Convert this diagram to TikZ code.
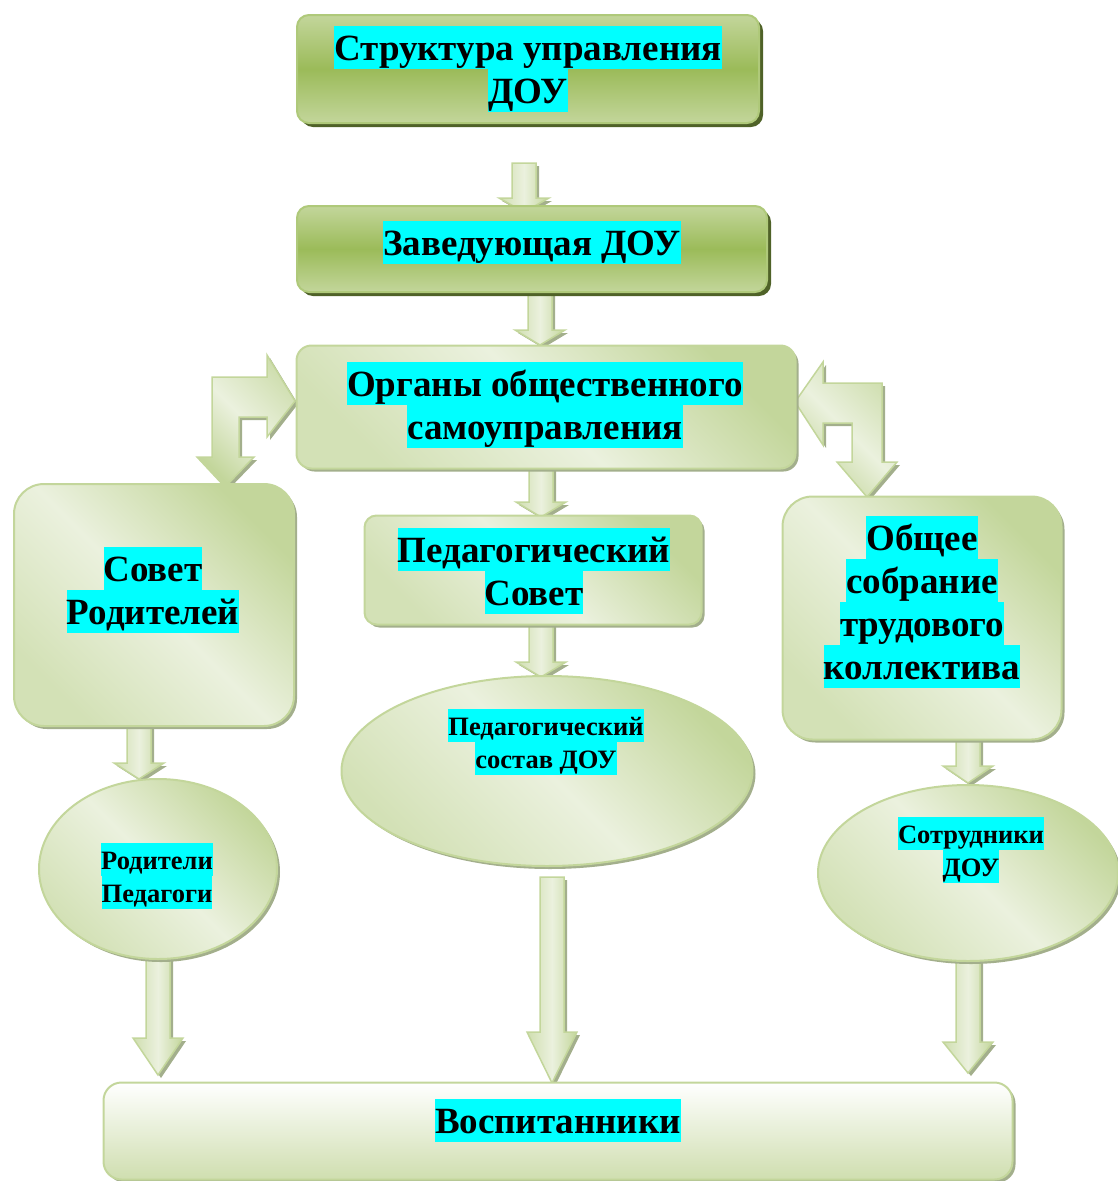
\documentclass[tikz,border=0pt]{standalone}
\usepackage{fontspec}
\setmainfont{Liberation Serif}
\usetikzlibrary{shapes.geometric}
\usetikzlibrary{shadows}
\usetikzlibrary{calc}
\usetikzlibrary{backgrounds}

\definecolor{olvdark}{HTML}{9BBB59}
\definecolor{olvlight}{HTML}{C3D69B}
\definecolor{olvpale}{HTML}{EBF1DE}
\definecolor{olvshadow}{HTML}{4F6228}
\definecolor{grnshadow}{HTML}{A3AF8C}
\definecolor{hlcyan}{HTML}{00FFFF}

\newcommand{\hl}[1]{{\setlength{\fboxsep}{0pt}\colorbox{hlcyan}{\rule[-0.19\baselineskip]{0pt}{\baselineskip}#1}}}
% block arrow pointing down: from, to, head length
\newcommand{\vblock}[3]{%
\path[blockarrow] ($(#1)+(-12,0)$) -- ($(#1)+(12,0)$) -- ($(#1 |- #2)+(12,-#3)$)
  -- ($(#1 |- #2)+(25,-#3)$) -- (#1 |- #2) -- ($(#1 |- #2)+(-25,-#3)$)
  -- ($(#1 |- #2)+(-12,-#3)$) -- cycle;}

\begin{document}
\begin{tikzpicture}[x=1pt, y=-1pt,
  bigtxt/.style={font=\fontsize{37}{43}\selectfont\bfseries, align=center, inner sep=0pt},
  smalltxt/.style={font=\fontsize{26.5}{33}\selectfont\bfseries, align=center, inner sep=0pt},
  darkbox/.style={rectangle, rounded corners=12pt, draw=olvdark!80!white, line width=2pt,
    top color=olvlight, bottom color=olvlight, middle color=olvdark,
    drop shadow={shadow xshift=4pt, shadow yshift=-4pt, fill=olvshadow, opacity=1}},
  lightbox/.style={rectangle, draw=olvlight, line width=2pt,
    top color=olvlight, bottom color=olvlight!60!olvpale, middle color=olvpale, shading angle=-45,
    drop shadow={shadow xshift=3pt, shadow yshift=-3pt, fill=grnshadow, opacity=1}},
  lightoval/.style={lightbox, ellipse},
  blockarrow/.style={draw=olvlight, line width=1.5pt,
    left color=olvlight!70!olvpale, right color=olvlight, middle color=olvpale,
    drop shadow={shadow xshift=3pt, shadow yshift=-3pt, fill=grnshadow, opacity=1}},
  bentarrow/.style={blockarrow, shading angle=-45}]
\useasboundingbox (0,0) rectangle (1117,1181);

% boxes
\node[darkbox, minimum width=462pt, minimum height=108pt, bigtxt] (title) at (528,69)
  {\hl{Структура управления}\\\hl{ДОУ}};
\node[darkbox, minimum width=470pt, minimum height=86pt] (zav) at (532,249) {};
\node[bigtxt] (zavt) at (532,242) {\hl{Заведующая ДОУ}};
\node[lightbox, rounded corners=15pt, minimum width=499pt, minimum height=123pt] (organy) at (546,407) {};
\node[bigtxt] (organyt) at (545,405) {\hl{Органы общественного}\\\hl{самоуправления}};
\node[lightbox, rounded corners=12pt, minimum width=337pt, minimum height=109pt] (pedsovet) at (533,570) {};
\node[bigtxt] (pedsovett) at (534,571) {\hl{Педагогический}\\\hl{Совет}};
\node[lightbox, rounded corners=30pt, minimum width=280pt, minimum height=242pt] (sovrod) at (154,605) {};
\node[bigtxt] (sovrodt) at (153,590) {\hl{Совет}\\\hl{Родителей}};
\node[lightbox, rounded corners=30pt, minimum width=279pt, minimum height=243pt] (obsh) at (922,618) {};
\node[bigtxt] (obsht) at (922,602) {\hl{Общее}\\\hl{собрание}\\\hl{трудового}\\\hl{коллектива}};
\node[lightoval, minimum width=411pt, minimum height=190pt] (pedsost) at (547,771) {};
\node[smalltxt] (pedsostt) at (546,742) {\hl{Педагогический}\\\hl{состав ДОУ}};
\node[lightoval, minimum width=238pt, minimum height=180pt] (rodped) at (158,869) {};
\node[smalltxt] (rodpedt) at (157,876) {\hl{Родители}\\\hl{Педагоги}};
\node[lightoval, minimum width=300pt, minimum height=176pt] (sotr) at (968,873) {};
\node[smalltxt] (sotrt) at (971,850) {\hl{Сотрудники}\\\hl{ДОУ}};
\node[lightbox, rounded corners=18pt, top color=white, bottom color=olvlight!70!olvpale,
  minimum width=909pt, minimum height=97pt] (vosp) at (558,1131) {};
\node[bigtxt] (vospt) at (558,1120) {\hl{Воспитанники}};

% arrow ends
\coordinate (a1s) at (524,163);  \coordinate (a1e) at (524,212);
\coordinate (a2s) at (540,291);  \coordinate (a2e) at (540,345);
\coordinate (a3s) at (541,463);  \coordinate (a3e) at (541,517);
\coordinate (a4s) at (541,623);  \coordinate (a4e) at (541,677);
\coordinate (a5s) at (139,713);  \coordinate (a5e) at (139,779);
\coordinate (a6s) at (968,727);  \coordinate (a6e) at (968,783);
\coordinate (a7s) at (158,937);  \coordinate (a7e) at (158,1075);
\coordinate (a8s) at (552,877);  \coordinate (a8e) at (552,1083);
\coordinate (a9s) at (968,960);  \coordinate (a9e) at (968,1073);

\begin{pgfonlayer}{background}
\vblock{a1s}{a1e}{14}
\vblock{a2s}{a2e}{15}
\vblock{a3s}{a3e}{15}
\vblock{a4s}{a4e}{15}
\vblock{a5s}{a5e}{16}
\vblock{a6s}{a6e}{17}
\vblock{a7s}{a7e}{37}
\vblock{a8s}{a8e}{51}
\vblock{a9s}{a9e}{31}
% bent arrows beside the council box
\path[bentarrow] (212,377) -- (267,377) -- (267,355) -- (295,401) -- (267,437) -- (267,417)
  -- (239,417) -- (239,457) -- (254,457) -- (225,487) -- (197,457) -- (212,457) -- cycle;
\path[bentarrow] (882,383) -- (823,383) -- (823,362) -- (795,402) -- (823,445) -- (823,423)
  -- (852,423) -- (852,462) -- (837,462) -- (867,497) -- (897,462) -- (882,462) -- cycle;
\end{pgfonlayer}
\end{tikzpicture}
\end{document}
